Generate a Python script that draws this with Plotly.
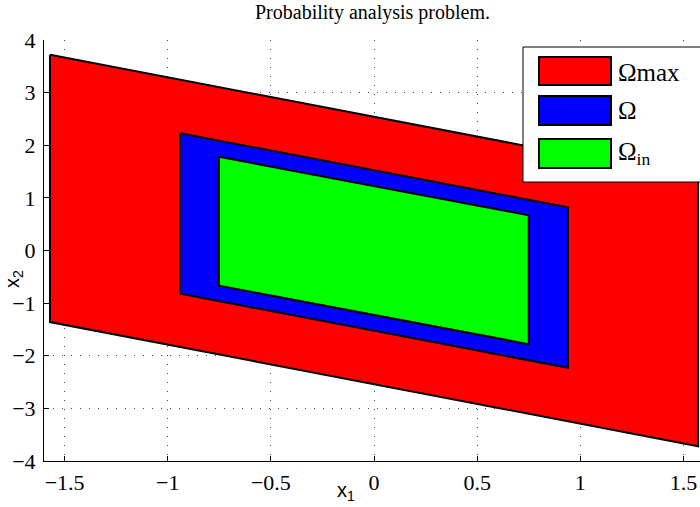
import plotly.graph_objects as go

# Region corners (x1, x2), listed clockwise from the top-left corner
omega_max_x1 = [-1.5708, 1.5708, 1.5708, -1.5708]
omega_max_x2 = [3.72, 1.36, -3.72, -1.36]
omega_x1 = [-0.94, 0.94, 0.94, -0.94]
omega_x2 = [2.23, 0.82, -2.23, -0.82]
omega_in_x1 = [-0.752, 0.75, 0.75, -0.752]
omega_in_x2 = [1.78, 0.67, -1.78, -0.67]

x_ticks = [-1.5, -1, -0.5, 0, 0.5, 1, 1.5]
y_ticks = [-4, -3, -2, -1, 0, 1, 2, 3, 4]

region_names = ["Ωmax", "Ω", "Ω<sub>in</sub>"]
region_colors = ["#ff0000", "#0000ff", "#00ff00"]

regions = [
    (omega_max_x1, omega_max_x2),
    (omega_x1, omega_x2),
    (omega_in_x1, omega_in_x2),
]

W, H = 700, 507
L, T, R, B = 44, 40, 700, 461  # plot area in pixels


def px(x):
    return (x - L) / (R - L)


def py(y):
    return (B - y) / (B - T)


fig = go.Figure()
for (xs, ys), name, color in zip(regions, region_names, region_colors):
    fig.add_trace(go.Scatter(
        x=xs + xs[:1], y=ys + ys[:1],
        mode="lines", fill="toself", fillcolor=color,
        line=dict(color="black", width=2),
        name=name, showlegend=False, hoverinfo="skip",
    ))

serif = "Times New Roman, Liberation Serif, Times, serif"
sans = "Arial, Liberation Sans, Helvetica, sans-serif"

axis_common = dict(
    showline=True, linecolor="black", linewidth=1,
    ticks="inside", ticklen=5, tickcolor="black",
    showgrid=True, gridcolor="#444", gridwidth=1, griddash="1px,8px",
    zeroline=False, tickfont=dict(family=serif, size=22, color="black"),
    mirror=False,
)

fig.update_xaxes(range=[-1.6, 1.58], tickvals=x_ticks, ticklabelstandoff=2,
                 **axis_common)
fig.update_yaxes(range=[-4, 4], tickvals=y_ticks, ticklabelstandoff=3,
                 **axis_common)

shapes = []
annotations = []

# legend box
shapes.append(dict(type="rect", xref="paper", yref="paper",
                   x0=px(523), x1=px(703), y0=py(182), y1=py(47),
                   fillcolor="white", line=dict(color="black", width=1),
                   layer="above"))
swatch_rows = [(57, 85), (96, 125), (139, 168)]
text_y = [72, 110, 153]
for (y0, y1), color, name, ty in zip(swatch_rows, region_colors, region_names, text_y):
    shapes.append(dict(type="rect", xref="paper", yref="paper",
                       x0=px(539), x1=px(611), y0=py(y1), y1=py(y0),
                       fillcolor=color, line=dict(color="black", width=2),
                       layer="above"))
    annotations.append(dict(x=px(616), y=py(ty), xref="paper", yref="paper",
                            text=name, showarrow=False, xanchor="left",
                            yanchor="middle",
                            font=dict(family=serif, size=25, color="black")))

# title and axis labels
annotations.append(dict(x=px(372), y=py(12), xref="paper", yref="paper",
                        text="Probability analysis problem.", showarrow=False,
                        xanchor="center", yanchor="middle",
                        font=dict(family=serif, size=20, color="black")))
annotations.append(dict(x=px(346), y=py(491), xref="paper", yref="paper",
                        text="x<sub>1</sub>", showarrow=False,
                        xanchor="center", yanchor="middle",
                        font=dict(family=sans, size=20, color="black")))
annotations.append(dict(x=px(13), y=py(279), xref="paper", yref="paper",
                        text="x<sub>2</sub>", showarrow=False, textangle=-90,
                        xanchor="center", yanchor="middle",
                        font=dict(family=sans, size=20, color="black")))

fig.update_layout(
    width=W, height=H,
    margin=dict(l=L, r=W - R, t=T, b=H - B, pad=0),
    paper_bgcolor="white", plot_bgcolor="white",
    shapes=shapes, annotations=annotations,
    showlegend=False,
)

fig.write_html("out.html")
